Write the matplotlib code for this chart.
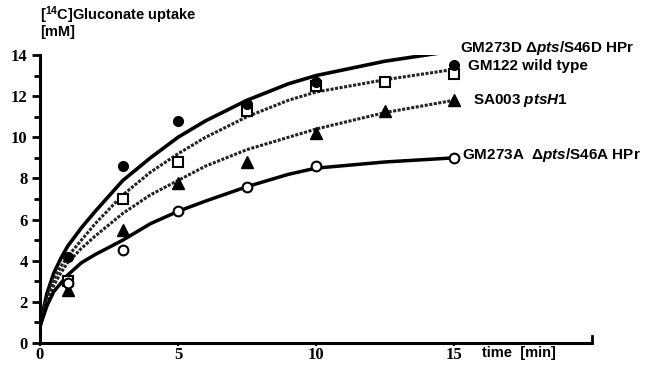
import numpy as np
import matplotlib
matplotlib.use("Agg")
import matplotlib.pyplot as plt

plt.rcParams['mathtext.fontset'] = 'custom'
plt.rcParams['mathtext.rm'] = 'Liberation Sans:bold'
plt.rcParams['mathtext.bf'] = 'Liberation Sans:bold'
plt.rcParams['mathtext.it'] = 'Liberation Sans:bold:italic'
plt.rcParams['mathtext.bfit'] = 'Liberation Sans:bold:italic'

# measured points (time in min, uptake in mM)
t_gm273d = [1, 3, 5, 7.5, 10, 15]
y_gm273d = [4.2, 8.6, 10.8, 11.6, 12.7, 13.5]
t_gm122 = [1, 3, 5, 7.5, 10, 12.5, 15]
y_gm122 = [3.0, 7.0, 8.8, 11.3, 12.5, 12.7, 13.1]
t_sa003 = [1, 3, 5, 7.5, 10, 12.5, 15]
y_sa003 = [2.6, 5.5, 7.8, 8.8, 10.2, 11.3, 11.8]
t_gm273a = [1, 3, 5, 7.5, 10, 15]
y_gm273a = [2.9, 4.5, 6.4, 7.6, 8.6, 9.0]

# fitted curves
t_fit = [0, 0.1, 0.25, 0.5, 0.75, 1, 1.5, 2, 3, 4, 5, 6, 7.5, 9, 10, 12.5, 15]
fit_gm273d = [0.8, 1.5, 2.4, 3.4, 4.1, 4.7, 5.6, 6.4, 7.9, 9.0, 10.0, 10.8, 11.8, 12.6, 13.0, 13.7, 14.2]
fit_gm122 = [0.8, 1.4, 2.2, 3.1, 3.7, 4.2, 5.0, 5.8, 7.2, 8.3, 9.2, 10.0, 11.0, 11.8, 12.2, 12.8, 13.3]
fit_sa003 = [0.8, 1.3, 2.0, 2.8, 3.4, 3.9, 4.6, 5.2, 6.3, 7.2, 7.9, 8.6, 9.4, 10.0, 10.4, 11.2, 11.8]
fit_gm273a = [0.8, 1.2, 1.8, 2.5, 2.9, 3.3, 3.9, 4.3, 5.0, 5.8, 6.4, 6.9, 7.6, 8.2, 8.5, 8.8, 9.0]

x_ticks = [0, 5, 10, 15]
y_ticks = [0, 2, 4, 6, 8, 10, 12, 14]

fig = plt.figure(figsize=(6.45, 3.67), dpi=100)
ax = fig.add_axes([40 / 645, 24 / 367, 552 / 645, 288 / 367])
ax.set_xlim(0, 20)
ax.set_ylim(0, 14)

dots = (0, (1.0, 0.5))
ax.plot(t_fit, fit_gm273d, color='black', lw=2.6, solid_capstyle='butt')
ax.plot(t_fit, fit_gm122, color='#222222', lw=2.2, ls=dots)
ax.plot(t_fit, fit_sa003, color='#222222', lw=2.2, ls=dots)
ax.plot(t_fit, fit_gm273a, color='black', lw=2.5)

ax.plot(t_gm273d, y_gm273d, 'o', ms=7, color='black', zorder=5)
ax.plot(t_gm122, y_gm122, 's', ms=7, mfc='white', mec='black', mew=1.5, zorder=4)
ax.plot(t_sa003, y_sa003, '^', ms=8.5, color='black', zorder=5)
ax.plot(t_gm273a, y_gm273a, 'o', ms=7, mfc='white', mec='black', mew=1.5, zorder=5)

for s in ['top', 'right']:
    ax.spines[s].set_visible(False)
ax.spines['left'].set_linewidth(2.2)
ax.spines['bottom'].set_linewidth(2.2)

ax.set_yticks(y_ticks)
ax.set_yticks(range(1, 14, 2), minor=True)
ax.set_xticks(x_ticks)
ax.tick_params(axis='y', which='major', direction='out', length=6, width=2)
ax.tick_params(axis='y', which='minor', direction='out', length=4, width=2)
ax.tick_params(axis='x', which='major', direction='out', length=2, width=1.5, pad=1)
for lab in ax.get_xticklabels() + ax.get_yticklabels():
    lab.set_fontfamily('Liberation Serif')
    lab.set_fontweight('bold')
    lab.set_fontsize(12)
ax.tick_params(axis='y', pad=3)

# small end hook on the x axis
ax.plot([20, 20], [0, 0.35], color='black', lw=2, clip_on=False)

lab_kw = dict(fontsize=11, fontweight='bold', family='Liberation Sans', va='center')
ax.text(15.2, 14.35, r'GM273D $\mathit{\Delta pts}$/S46D HPr', **lab_kw)
ax.text(15.5, 13.45, 'GM122 wild type', **lab_kw)
ax.text(15.7, 11.8, r'SA003 $\mathit{ptsH1}$', **lab_kw)
ax.text(15.3, 9.15, r'GM273A  $\mathit{\Delta pts}$/S46A HPr', **lab_kw)

ax.text(16.0, -0.5, 'time  [min]', fontsize=10.5, fontweight='bold',
        family='Liberation Sans', va='center')

fig.text(40 / 645, 1 - 15 / 367, r'[$^{\mathbf{14}}$C]Gluconate uptake', fontsize=10.5,
         fontweight='bold', family='Liberation Sans', va='center')
fig.text(40 / 645, 1 - 32 / 367, '[mM]', fontsize=10.5, fontweight='bold',
         family='Liberation Sans', va='center')

fig.savefig('out.png', dpi=100)
